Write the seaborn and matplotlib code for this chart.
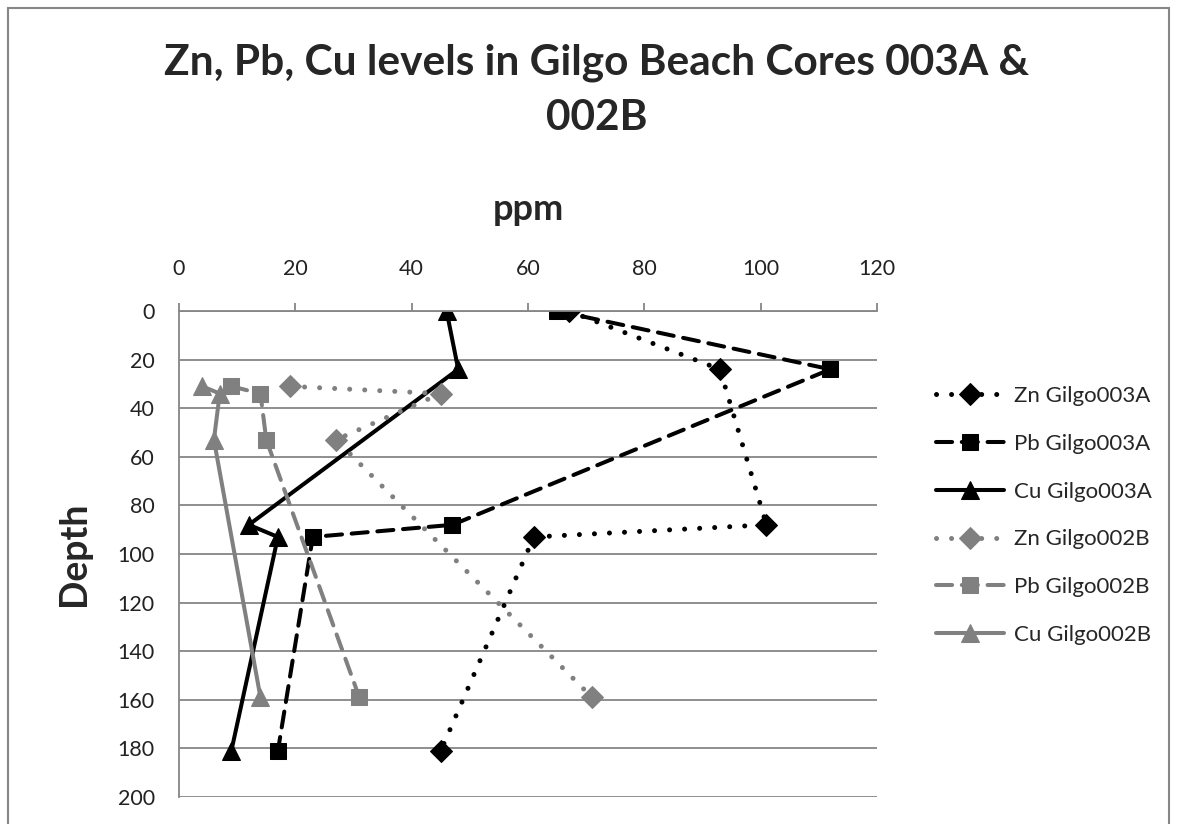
import seaborn as sns
import matplotlib.pyplot as plt
import matplotlib.patches as mpatches
import pandas as pd

# profundidades (depth) e concentracoes (ppm)
depth_003A = [0, 24, 88, 93, 181]
zn_003A = [67, 93, 101, 61, 45]
pb_003A = [65, 112, 47, 23, 17]
cu_003A = [46, 48, 12, 17, 9]

depth_002B = [31, 34, 53, 159]
zn_002B = [19, 45, 27, 71]
pb_002B = [9, 14, 15, 31]
cu_002B = [4, 7, 6, 14]

series = [
    ('Zn Gilgo003A', zn_003A, depth_003A),
    ('Pb Gilgo003A', pb_003A, depth_003A),
    ('Cu Gilgo003A', cu_003A, depth_003A),
    ('Zn Gilgo002B', zn_002B, depth_002B),
    ('Pb Gilgo002B', pb_002B, depth_002B),
    ('Cu Gilgo002B', cu_002B, depth_002B),
]

sns.set_style('white')
plt.rcParams['font.family'] = ['Lato', 'DejaVu Sans']

gray = '#808080'
estilos = {
    'Zn Gilgo003A': dict(color='black', ls=(0, (0.01, 3)), marker='D', ms=11, lw=3.6),
    'Pb Gilgo003A': dict(color='black', ls=(0, (4, 2.4)), marker='s', ms=12, lw=2.9),
    'Cu Gilgo003A': dict(color='black', ls='-', marker='^', ms=13, lw=2.9),
    'Zn Gilgo002B': dict(color=gray, ls=(0, (0.01, 3)), marker='D', ms=11, lw=3.6),
    'Pb Gilgo002B': dict(color=gray, ls=(0, (4, 2.4)), marker='s', ms=12, lw=2.9),
    'Cu Gilgo002B': dict(color=gray, ls='-', marker='^', ms=13, lw=2.9),
}

fig = plt.figure(figsize=(11.77, 8.24), dpi=100)
ax = fig.add_axes([0.1521, 0.0328, 0.593, 0.5898])

for nome, ppm, prof in series:
    df = pd.DataFrame({'ppm': ppm, 'Depth': prof})
    st = estilos[nome]
    sns.lineplot(data=df, x='ppm', y='Depth', sort=False, estimator=None, ax=ax,
                 color=st['color'], linestyle=st['ls'], linewidth=st['lw'],
                 marker=st['marker'], markersize=st['ms'], markeredgecolor=st['color'],
                 dash_capstyle='round', label=nome)

ax.set_xlim(0, 120)
ax.set_ylim(200, 0)
ax.set_xticks(range(0, 121, 20))
ax.set_yticks(range(0, 201, 20))
ax.xaxis.tick_top()
ax.xaxis.set_label_position('top')
ax.tick_params(axis='both', labelsize=15.5, colors='#868686', labelcolor='#222222',
               width=1.3, direction='out')
ax.tick_params(axis='x', length=6, pad=17)
ax.tick_params(axis='y', length=6.5, pad=11)
ax.yaxis.grid(True, color='#868686', lw=1.3)
ax.set_axisbelow(True)
for s in ['right', 'bottom']:
    ax.spines[s].set_visible(False)
for s in ['top', 'left']:
    ax.spines[s].set_color('#868686')
    ax.spines[s].set_linewidth(1.3)

ax.set_xlabel('ppm', fontsize=26, fontweight='bold', va='baseline')
ax.xaxis.set_label_coords(0.5, (797 - 220) / 486)
ax.set_ylabel('Depth', fontsize=27, fontweight='bold', va='center')
ax.yaxis.set_label_coords((74 - 179) / 698, 0.5)

fig.text(597 / 1177, 1 - 74 / 824, 'Zn, Pb, Cu levels in Gilgo Beach Cores 003A &',
         ha='center', va='baseline', fontsize=30.5, fontweight='bold')
fig.text(597 / 1177, 1 - 130 / 824, '002B', ha='center', va='baseline',
         fontsize=30.5, fontweight='bold')

ax.legend(loc='upper left', bbox_to_anchor=(936 / 1177, 1 - 386 / 824),
          bbox_transform=fig.transFigure, frameon=False, fontsize=16,
          handlelength=3.05, handletextpad=0.45, labelspacing=1.25,
          borderpad=0, borderaxespad=0)

# borda do grafico
fig.patches.append(mpatches.Rectangle((8 / 1177, -0.05), 1 - 16 / 1177, 1.05 - 8 / 824,
                                      transform=fig.transFigure, fill=False,
                                      edgecolor='#868686', lw=1.5))

fig.savefig('out.png', dpi=100)
